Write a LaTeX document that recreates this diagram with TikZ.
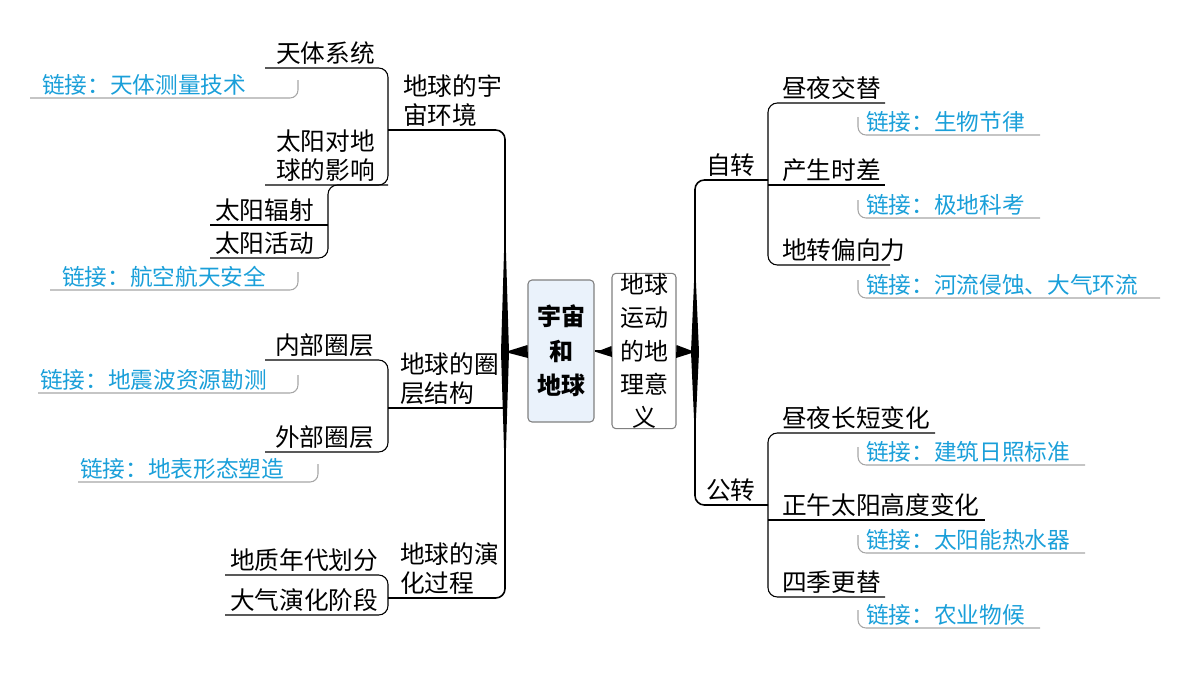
\documentclass[tikz,border=0pt]{standalone}
\usepackage{fontspec}
\setmainfont{Noto Sans CJK SC}
\definecolor{linkblue}{HTML}{1A9FD9}
\definecolor{centerfill}{HTML}{EAF2FB}
\tikzset{
  topic/.style={inner sep=0pt,anchor=south west,font=\fontsize{18.5pt}{22pt}\selectfont,align=left},
  link/.style={inner sep=0pt,anchor=south west,font=\fontsize{17pt}{20pt}\selectfont,text=linkblue},
  branch/.style={draw=black,line width=0.8pt,rounded corners=7},
  linkline/.style={draw=gray!70,line width=0.8pt,rounded corners=6},
  centerbox/.style={draw=gray,rounded corners=3,line width=0.8pt,align=center,inner sep=0pt}
}
\begin{document}
\begin{tikzpicture}[x=0.75pt,y=-0.75pt]
\useasboundingbox (0,0) rectangle (1200,675);
% central boxes
\node[centerbox,fill=centerfill,minimum width=66*0.75pt,minimum height=142*0.75pt,font=\fontsize{18pt}{26pt}\selectfont\bfseries] (center) at (561,351) {宇宙\\和\\地球};
\node[centerbox,fill=white,minimum width=64*0.75pt,minimum height=142*0.75pt,font=\fontsize{18pt}{25pt}\selectfont] (motion) at (644,351) {地球\\运动\\的地\\理意\\义};
% trunks
\draw[line width=1.2pt,rounded corners=7] (388,130) -- (505,130) -- (505,598) -- (388,598);
\draw[line width=1.2pt] (388,408) -- (505,408);
\fill (505,220) -- (509,352) -- (505,480) -- (501,352) -- cycle;
\fill (center.west) ++(0,-6) -- (505,352) -- ++(23,6) -- cycle;
\draw[line width=1.2pt] (center.east) -- (motion.west);
\fill (motion.west) ++(0,-5) -- (596,352) -- ++(16,5) -- cycle;
\draw[line width=1.2pt,rounded corners=7] (768,180) -- (695,180) -- (695,505) -- (768,505);
\fill (695,260) -- (699,352) -- (695,440) -- (691,352) -- cycle;
\fill (motion.east) ++(0,-6) -- (695,352) -- ++(-19,6) -- cycle;
% left: 地球的宇宙环境
\node[topic] (env) at (403,127) {地球的宇\\宙环境};
\node[topic] (sys) at (276,65) {天体系统};
\node[topic] (sun) at (276,182) {太阳对地\\球的影响};
\draw[branch] (265,68) -- (388,68) -- (388,185) -- (265,185);
\node[link] (lk1) at (42,96) {链接：天体测量技术};
\draw[linkline] (30,98) -- (298,98) -- (298,80);
\node[topic] (rad) at (215,222) {太阳辐射};
\node[topic] (act) at (215,255) {太阳活动};
\draw[branch] (388,185) -- (328,185) -- (328,258) -- (210,258);
\draw[branch] (210,225) -- (328,225);
\node[link] (lk2) at (62,288) {链接：航空航天安全};
\draw[linkline] (50,290) -- (298,290) -- (298,272);
% left: 地球的圈层结构
\node[topic] (layer) at (400,405) {地球的圈\\层结构};
\node[topic] (inner) at (275,357) {内部圈层};
\node[topic] (outer) at (275,449) {外部圈层};
\draw[branch] (265,360) -- (388,360) -- (388,452) -- (265,452);
\node[link] (lk3) at (40,391) {链接：地震波资源勘测};
\draw[linkline] (38,393) -- (298,393) -- (298,375);
\node[link] (lk4) at (80,480) {链接：地表形态塑造};
\draw[linkline] (78,482) -- (318,482) -- (318,464);
% left: 地球的演化过程
\node[topic] (evo) at (400,595) {地球的演\\化过程};
\node[topic] (geo) at (230,572) {地质年代划分};
\node[topic] (air) at (230,612) {大气演化阶段};
\draw[branch] (225,575) -- (388,575) -- (388,615) -- (225,615);
% right: 自转
\node[topic] (rot) at (706,177) {自转};
\node[topic] (day) at (782,100) {昼夜交替};
\node[topic] (time) at (782,182) {产生时差};
\node[topic] (cor) at (782,262) {地转偏向力};
\draw[branch] (885,103) -- (768,103) -- (768,265) -- (890,265);
\draw[branch] (768,185) -- (885,185);
\node[link] (lk5) at (866,133) {链接：生物节律};
\draw[linkline] (858,117) -- (858,135) -- (1040,135);
\node[link] (lk6) at (866,216) {链接：极地科考};
\draw[linkline] (858,200) -- (858,218) -- (1040,218);
\node[link] (lk7) at (866,296) {链接：河流侵蚀、大气环流};
\draw[linkline] (858,280) -- (858,298) -- (1160,298);
% right: 公转
\node[topic] (rev) at (706,502) {公转};
\node[topic] (len) at (782,430) {昼夜长短变化};
\node[topic] (noon) at (782,517) {正午太阳高度变化};
\node[topic] (season) at (782,594) {四季更替};
\draw[branch] (935,433) -- (768,433) -- (768,597) -- (885,597);
\draw[branch] (768,520) -- (985,520);
\node[link] (lk8) at (866,463) {链接：建筑日照标准};
\draw[linkline] (858,447) -- (858,465) -- (1085,465);
\node[link] (lk9) at (866,551) {链接：太阳能热水器};
\draw[linkline] (858,535) -- (858,553) -- (1085,553);
\node[link] (lk10) at (866,626) {链接：农业物候};
\draw[linkline] (858,610) -- (858,628) -- (1040,628);
\end{tikzpicture}
\end{document}
